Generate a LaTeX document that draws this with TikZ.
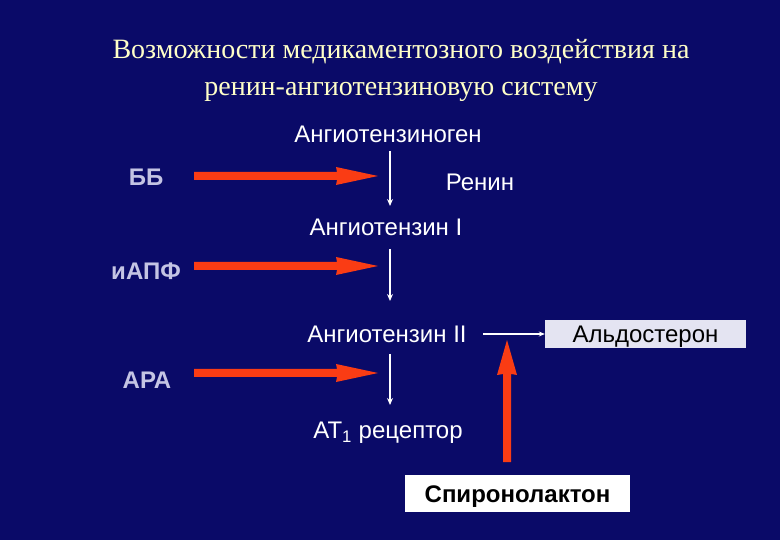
\documentclass[tikz,border=0pt]{standalone}
\usepackage{fontspec}
\usetikzlibrary{arrows.meta}
\setmainfont{Liberation Sans}
\newfontfamily\titlefont{Liberation Serif}
\definecolor{bgnavy}{RGB}{10,10,104}
\definecolor{titleyel}{RGB}{255,255,200}
\definecolor{drugcol}{RGB}{196,196,228}
\definecolor{redarr}{RGB}{250,60,20}
\definecolor{aldofill}{RGB}{228,228,242}
\begin{document}
\begin{tikzpicture}[x=1pt,y=-1pt,
  lbl/.style={text=white,font=\fontsize{24}{28}\selectfont,inner sep=0pt},
  drug/.style={text=drugcol,font=\fontsize{24}{28}\selectfont\bfseries,inner sep=0pt},
  boxed/.style={inner sep=0pt,text height=17pt,text depth=0pt,font=\fontsize{24}{28}\selectfont},
  flow/.style={draw=white,line width=1.2pt,-{Stealth[length=7pt,width=6pt]}},
  thin/.style={draw=white,line width=1.2pt,-{Stealth[length=6pt,width=5pt]}},
]
\fill[bgnavy] (0,0) rectangle (780,540);
\useasboundingbox (0,0) rectangle (780,540);
\node[text=titleyel,font=\titlefont\fontsize{28}{37}\selectfont,align=center] (title) at (401,70)
  {Возможности медикаментозного воздействия на\\ренин-ангиотензиновую систему};
\node[lbl] (agen) at (388,134) {Ангиотензиноген};
\node[lbl] (renin) at (480,182) {Ренин};
\node[lbl] (a1) at (386,227) {Ангиотензин I};
\node[lbl] (a2) at (387,334) {Ангиотензин II};
\node[lbl] (at1) at (388,433) {AT\textsubscript{1} рецептор};
\node[drug] (bb) at (146,177) {ББ};
\node[drug] (iapf) at (146,271) {иАПФ};
\node[drug] (ara) at (147,380) {АРА};
\node[boxed,fill=aldofill,minimum width=201pt,minimum height=28pt] (aldo) at (645.5,334) {Альдостерон};
\node[boxed,fill=white,minimum width=225pt,minimum height=37pt,font=\fontsize{24}{28}\selectfont\bfseries] (spiro) at (517.5,493.5) {Спиронолактон};
% vertical flow arrows
\coordinate (v1a) at (390,151); \coordinate (v1b) at (390,206);
\coordinate (v2a) at (390,249); \coordinate (v2b) at (390,301);
\coordinate (v3a) at (390,354); \coordinate (v3b) at (390,405);
\draw[flow] (v1a) -- (v1b);
\draw[flow] (v2a) -- (v2b);
\draw[flow] (v3a) -- (v3b);
\coordinate (h1) at (483,334);
\draw[thin] (h1) -- (aldo.west);
% red horizontal arrows
\foreach \yy/\nm in {176/bb,266/iapf,373/ara}{
  \coordinate (\nm s) at (194,\yy);
  \fill[redarr] (194,\yy-4) -- (337,\yy-4) -- (336,\yy-9) -- (378,\yy) -- (336,\yy+9) -- (337,\yy+4) -- (194,\yy+4) -- cycle;
}
% red vertical arrow
\coordinate (rs) at (507,462);
\coordinate (rt) at (507,340);
\fill[redarr] (503,462) -- (503,374) -- (497,375) -- (rt) -- (517,375) -- (511,374) -- (511,462) -- cycle;
\end{tikzpicture}
\end{document}
